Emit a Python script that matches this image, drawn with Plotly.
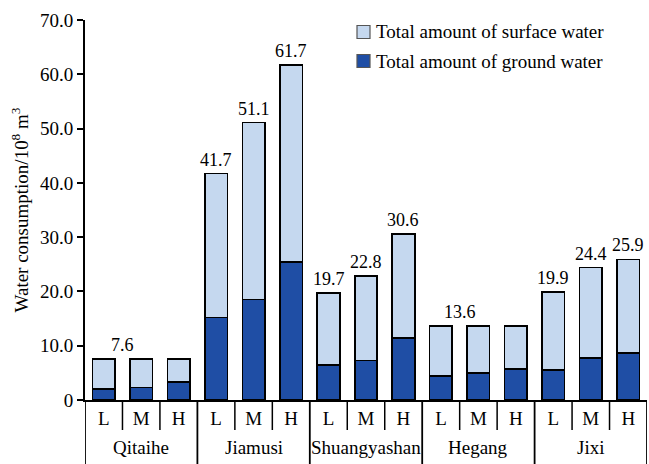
import plotly.graph_objects as go

# Water consumption (10^8 m^3) by city and scenario level
cities = ["Qitaihe", "Jiamusi", "Shuangyashan", "Hegang", "Jixi"]
levels = ["L", "M", "H"]
total_water = [7.6, 7.6, 7.6,
               41.7, 51.1, 61.7,
               19.7, 22.8, 30.6,
               13.6, 13.6, 13.6,
               19.9, 24.4, 25.9]
ground_water = [2.0, 2.3, 3.3,
                15.2, 18.5, 25.4,
                6.5, 7.3, 11.4,
                4.4, 5.0, 5.7,
                5.5, 7.7, 8.7]
surface_water = [round(t - g, 1) for t, g in zip(total_water, ground_water)]
y_ticks = [0, 10, 20, 30, 40, 50, 60, 70]

LIGHT = "#c5d8ef"
DARK = "#1f4ea5"
FONT = "Liberation Serif"

n = len(cities) * len(levels)
xpos = list(range(n))

fig = go.Figure()
fig.add_trace(go.Bar(x=xpos, y=ground_water, name="Total amount of ground water",
                     marker=dict(color=DARK, line=dict(color="black", width=1.6)),
                     width=0.6, showlegend=False))
fig.add_trace(go.Bar(x=xpos, y=surface_water, name="Total amount of surface water",
                     marker=dict(color=LIGHT, line=dict(color="black", width=1.6)),
                     width=0.6, showlegend=False))

annotations = []
shapes = []
PLOT_H = 380
bottom = -64 / PLOT_H
short = -30 / PLOT_H

for k, city in enumerate(cities):
    vals = total_water[3 * k:3 * k + 3]
    if len(set(vals)) == 1:
        annotations.append(dict(x=3 * k + 0.5, y=vals[0], text=f"{vals[0]:.1f}",
                                showarrow=False, yanchor="bottom", yshift=2,
                                font=dict(family=FONT, size=18, color="black")))
    else:
        for j, v in enumerate(vals):
            annotations.append(dict(x=3 * k + j, y=v, text=f"{v:.1f}",
                                    showarrow=False, yanchor="bottom", yshift=2,
                                    font=dict(family=FONT, size=18, color="black")))
    # city name under the level labels
    annotations.append(dict(x=3 * k + 1, xref="x", y=-47 / PLOT_H, yref="paper",
                            text=city, showarrow=False, yanchor="middle",
                            font=dict(family=FONT, size=19, color="black")))
    # short dividers between levels
    for j in range(2):
        xd = 3 * k + j + 0.5
        shapes.append(dict(type="line", xref="x", yref="paper", x0=xd, x1=xd,
                           y0=0, y1=short, line=dict(color="black", width=1.5)))

# full-height dividers between cities
for k in range(len(cities) + 1):
    xd = 3 * k - 0.5
    shapes.append(dict(type="line", xref="x", yref="paper", x0=xd, x1=xd,
                       y0=0, y1=bottom, line=dict(color="black", width=1.8)))

# legend drawn as swatches with text
legend_items = [("Total amount of surface water", LIGHT, 32),
                ("Total amount of ground water", DARK, 61)]
for label, color, ypx in legend_items:
    y0 = 1 - (ypx - 6.5 - 20) / PLOT_H
    y1 = 1 - (ypx + 6.5 - 20) / PLOT_H
    shapes.append(dict(type="rect", xref="paper", yref="paper",
                       x0=(357 - 85) / 562, x1=(370 - 85) / 562, y0=y1, y1=y0,
                       fillcolor=color, line=dict(color="#555555", width=1.2)))
    annotations.append(dict(xref="paper", yref="paper", x=(374 - 85) / 562,
                            y=1 - (ypx - 20) / PLOT_H, text=label, showarrow=False,
                            xanchor="left", yanchor="middle",
                            font=dict(family=FONT, size=19, color="black")))

fig.update_layout(
    width=649, height=464,
    margin=dict(l=85, r=2, t=20, b=64),
    barmode="stack",
    plot_bgcolor="white", paper_bgcolor="white",
    annotations=annotations, shapes=shapes,
    xaxis=dict(range=[-0.5, n - 0.5], tickvals=xpos, ticktext=levels * len(cities),
               ticks="", showline=True, linecolor="black", linewidth=1.8,
               showgrid=False, zeroline=False,
               tickfont=dict(family=FONT, size=19, color="black")),
    yaxis=dict(range=[0, 70], tickvals=y_ticks,
               ticktext=["0"] + [f"{v:.1f}" for v in y_ticks[1:]],
               ticks="outside", ticklen=6, tickwidth=1.5, tickcolor="black",
               showline=True, linecolor="black", linewidth=1.8,
               showgrid=False, zeroline=False,
               tickfont=dict(family=FONT, size=19, color="black"),
               title=dict(text="Water consumption/10<sup>8</sup> m<sup>3</sup>",
                          font=dict(family=FONT, size=19, color="black"),
                          standoff=6)),
    font=dict(family=FONT, color="black"),
)

fig.write_html("out.html")
